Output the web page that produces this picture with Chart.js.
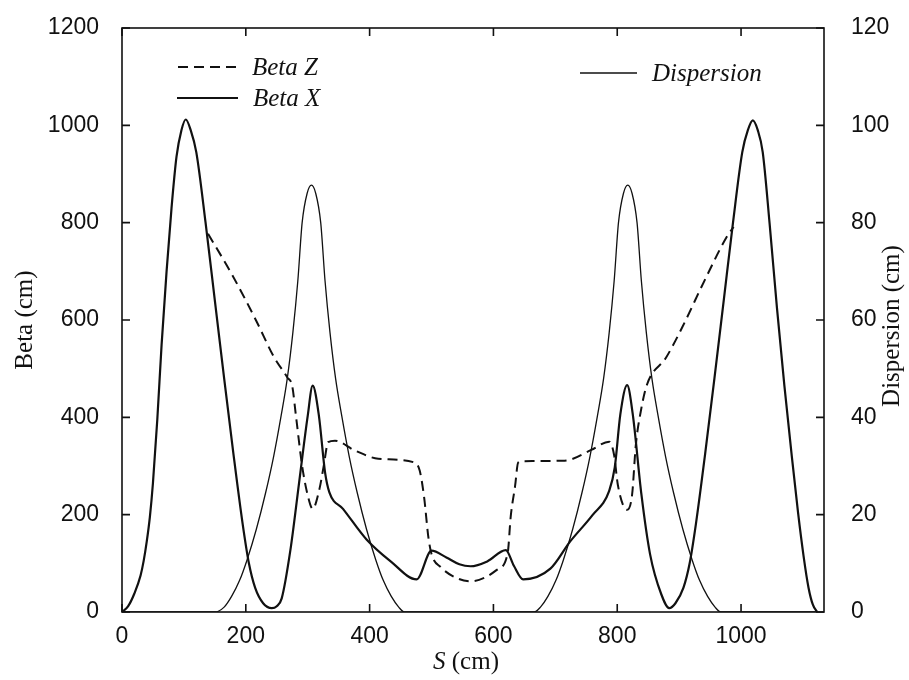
<!DOCTYPE html>
<html>
<head>
<meta charset="utf-8">
<script src="https://cdn.jsdelivr.net/npm/chart.js@4.4.1/dist/chart.umd.min.js"></script>
<style>
  html, body { margin: 0; padding: 0; background: #fff; }
  #wrap { width: 909px; height: 680px; }
</style>
</head>
<body>
<div id="wrap"><canvas id="lattice" width="909" height="680"></canvas></div>
<script>
// axis ticks
const sTicks = [0, 200, 400, 600, 800, 1000];
const betaTicks = [0, 200, 400, 600, 800, 1000, 1200];
const dispTicks = [0, 20, 40, 60, 80, 100, 120];

// Beta X (cm), left axis
const sBetaX = [0, 10, 20, 30, 35, 40, 45, 50, 57, 64, 72, 80, 88, 96, 103, 111, 120, 135, 150, 165,
  180, 195, 205, 215, 228, 242, 250, 258, 272, 286, 300, 308, 318, 328, 335, 357, 395, 434, 476, 500,
  524, 545, 563, 590, 620, 633, 648, 692, 724, 760, 787, 796, 805, 816, 825, 839, 853, 871, 884, 894,
  907, 917, 927, 942, 957, 972, 987, 1002, 1011, 1019, 1027, 1035, 1046, 1058, 1070, 1082, 1092, 1101,
  1109, 1116, 1123];
const betaX = [0, 12, 38, 75, 105, 145, 195, 265, 395, 550, 700, 830, 935, 990, 1012, 990, 945, 800, 640, 480,
  325, 180, 100, 50, 18, 8, 12, 28, 127, 265, 403, 465, 404, 287, 246, 212, 149, 104, 67, 126,
  112, 98, 94, 104, 127, 95, 67, 89, 145, 199, 249, 297, 406, 466, 407, 242, 119, 37, 8, 18,
  50, 100, 180, 325, 480, 640, 800, 945, 990, 1010, 990, 945, 800, 625, 465, 320, 205, 115,
  50, 15, 0];

// Beta Z (cm), left axis, dashed
const sBetaZ = [139, 177, 217, 245, 267, 275, 281, 291, 300, 308, 319, 326, 333, 344, 376, 414, 473, 481,
  488, 495, 500, 515, 542, 563, 585, 606, 623, 628, 635, 640, 648, 715, 758, 787, 795, 801, 816, 824,
  830, 838, 848, 879, 905, 941, 977, 988];
const betaZ = [777, 695, 598, 525, 482, 464, 403, 300, 240, 212, 253, 301, 349, 352, 332, 315, 307, 290,
  236, 153, 119, 92, 69, 63, 70, 87, 121, 197, 259, 307, 310, 311, 333, 350, 322, 261, 210, 241,
  343, 412, 467, 523, 585, 681, 771, 791];

// Dispersion (cm), right axis
const sDisp = [0, 150, 165, 177, 190, 202, 217, 232, 245, 257, 267, 276, 284, 291, 299, 306, 313, 321, 328,
  336, 345, 355, 367, 380, 395, 410, 422, 435, 447, 456, 666, 676, 688, 701, 713, 728, 743, 756,
  768, 778, 787, 795, 802, 810, 817, 824, 832, 839, 847, 856, 866, 878, 891, 906, 921, 933, 946, 958, 967, 1123];
const disp = [0, 0, 1, 3.2, 6.5, 10.7, 17, 24.5, 32, 40.3, 48, 57.4, 68, 80, 86, 87.7, 86, 80, 68,
  57.4, 48, 40.3, 32, 24.5, 17, 10.7, 6.5, 3.2, 1, 0, 0, 1, 3.2, 6.5, 10.7, 17, 24.5, 32,
  40.3, 48, 57.4, 68, 80, 86, 87.7, 86, 80, 68, 57.4, 48, 40.3, 32, 24.5, 17, 10.7, 6.5, 3.2, 1, 0, 0];

const INK = '#111';
const sans = '"Liberation Sans", Arial, sans-serif';
const serif = '"Liberation Serif", "Times New Roman", serif';

function pts(xs, ys) {
  return xs.map((x, i) => ({ x, y: ys[i] }));
}

// legend placement (px)
const legendRows = [
  { ds: 0, x0: 178, x1: 237, y: 67 },
  { ds: 1, x0: 177, x1: 238, y: 98 },
  { ds: 2, x0: 580, x1: 637, y: 73 }
];

// frame with inward ticks, axis titles, legend
const framePlugin = {
  id: 'frame',
  afterDraw(chart) {
    const { ctx, chartArea: a, scales } = chart;
    ctx.save();
    ctx.strokeStyle = INK;
    ctx.lineWidth = 1.6;
    ctx.strokeRect(a.left, a.top, a.right - a.left, a.bottom - a.top);
    const len = 8;
    ctx.beginPath();
    sTicks.forEach(v => {
      const x = scales.x.getPixelForValue(v);
      ctx.moveTo(x, a.bottom); ctx.lineTo(x, a.bottom - len);
      ctx.moveTo(x, a.top); ctx.lineTo(x, a.top + len);
    });
    betaTicks.forEach(v => {
      const y = scales.y.getPixelForValue(v);
      ctx.moveTo(a.left, y); ctx.lineTo(a.left + len, y);
    });
    dispTicks.forEach(v => {
      const y = scales.y1.getPixelForValue(v);
      ctx.moveTo(a.right, y); ctx.lineTo(a.right - len, y);
    });
    ctx.stroke();

    ctx.fillStyle = INK;
    ctx.textBaseline = 'middle';

    // S (cm) with italic S
    const sPart = 'S', rest = ' (cm)';
    ctx.font = 'italic 25px ' + serif;
    const w1 = ctx.measureText(sPart).width;
    ctx.font = '25px ' + serif;
    const w2 = ctx.measureText(rest).width;
    let tx = (a.left + a.right) / 2 - 7 - (w1 + w2) / 2;
    ctx.textAlign = 'left';
    ctx.font = 'italic 25px ' + serif;
    ctx.fillText(sPart, tx, 662);
    ctx.font = '25px ' + serif;
    ctx.fillText(rest, tx + w1, 662);

    // right title reads bottom to top, like the left one
    ctx.textAlign = 'center';
    ctx.save();
    ctx.translate(892, (a.top + a.bottom) / 2 + 6);
    ctx.rotate(-Math.PI / 2);
    ctx.fillText('Dispersion (cm)', 0, 0);
    ctx.restore();

    // legend
    ctx.font = 'italic 25px ' + serif;
    ctx.textAlign = 'left';
    legendRows.forEach(r => {
      const ds = chart.data.datasets[r.ds];
      ctx.lineWidth = ds.borderWidth;
      ctx.setLineDash(ds.borderDash || []);
      ctx.beginPath();
      ctx.moveTo(r.x0, r.y); ctx.lineTo(r.x1, r.y);
      ctx.stroke();
      ctx.setLineDash([]);
      ctx.fillText(ds.label, r.x1 + 15, r.y + 1);
    });
    ctx.restore();
  }
};

const lineBase = {
  borderColor: INK,
  pointRadius: 0,
  fill: false,
  cubicInterpolationMode: 'monotone'
};

const tickFont = { family: sans, size: 23 };
const plain = v => String(v);
const noPad = s => { s.paddingTop = 0; s.paddingBottom = 0; s.paddingLeft = 0; s.paddingRight = 0; };

new Chart(document.getElementById('lattice'), {
  type: 'line',
  data: {
    datasets: [
      { ...lineBase, label: 'Beta Z', data: pts(sBetaZ, betaZ), yAxisID: 'y', borderWidth: 2, borderDash: [10, 6] },
      { ...lineBase, label: 'Beta X', data: pts(sBetaX, betaX), yAxisID: 'y', borderWidth: 2.2 },
      { ...lineBase, label: 'Dispersion', data: pts(sDisp, disp), yAxisID: 'y1', borderWidth: 1.3 }
    ]
  },
  options: {
    responsive: false,
    animation: false,
    devicePixelRatio: 1,
    layout: { padding: { top: 28, left: 0, right: 0, bottom: 0 } },
    plugins: { legend: { display: false }, tooltip: { enabled: false } },
    scales: {
      x: {
        type: 'linear', min: 0, max: 1134,
        afterBuildTicks: s => { s.ticks = sTicks.map(v => ({ value: v })); },
        afterFit: s => { s.height = 68; noPad(s); },
        grid: { display: false },
        border: { display: false },
        ticks: { color: INK, font: tickFont, padding: 3, maxRotation: 0, callback: plain }
      },
      y: {
        position: 'left', min: 0, max: 1200,
        afterBuildTicks: s => { s.ticks = betaTicks.map(v => ({ value: v })); },
        afterFit: s => { s.width = 122; noPad(s); },
        grid: { display: false },
        border: { display: false },
        ticks: { color: INK, font: tickFont, padding: 15, callback: plain },
        title: { display: true, text: 'Beta (cm)', color: INK, font: { family: serif, size: 25 }, padding: { top: 10, bottom: 0 } }
      },
      y1: {
        position: 'right', min: 0, max: 120,
        afterBuildTicks: s => { s.ticks = dispTicks.map(v => ({ value: v })); },
        afterFit: s => { s.width = 85; noPad(s); },
        grid: { display: false },
        border: { display: false },
        ticks: { color: INK, font: tickFont, padding: 19, callback: plain }
      }
    }
  },
  plugins: [framePlugin]
});
</script>
</body>
</html>
